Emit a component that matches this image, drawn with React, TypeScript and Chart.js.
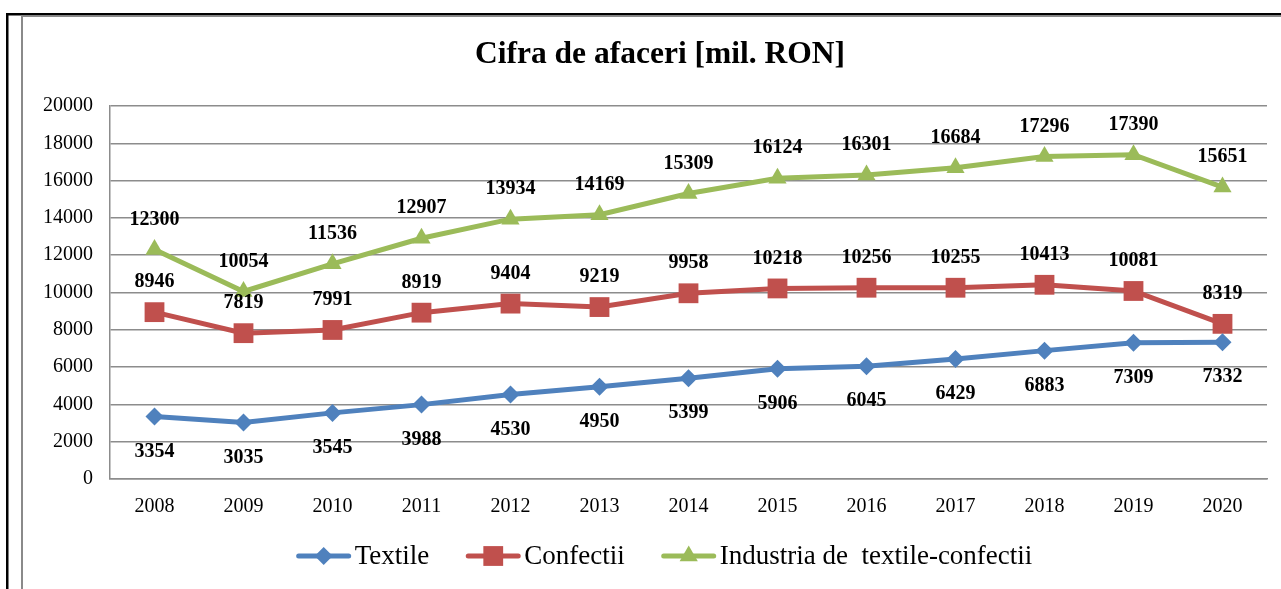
import { useEffect, useRef } from 'react';
import { Chart, registerables } from 'chart.js';

Chart.register(...registerables);

const years = ['2008', '2009', '2010', '2011', '2012', '2013', '2014', '2015', '2016', '2017', '2018', '2019', '2020'];
const textile = [3354, 3035, 3545, 3988, 4530, 4950, 5399, 5906, 6045, 6429, 6883, 7309, 7332];
const confectii = [8946, 7819, 7991, 8919, 9404, 9219, 9958, 10218, 10256, 10255, 10413, 10081, 8319];
const industria = [12300, 10054, 11536, 12907, 13934, 14169, 15309, 16124, 16301, 16684, 17296, 17390, 15651];
const seriesNames = ['Textile', 'Confectii', 'Industria de  textile-confectii'];
const yMax = 20000;
const yStep = 2000;
const titleText = 'Cifra de afaceri [mil. RON]';

const FONT = "'Liberation Serif', 'Times New Roman', serif";
const BLUE = '#4F81BD';
const RED = '#C0504D';
const GREEN = '#9BBB59';
const GRID = '#8c8c8c';

const styles = [
  { color: BLUE, pointStyle: 'rectRot', radius: 9, labelBelow: true },
  { color: RED, pointStyle: 'rect', radius: 14, labelBelow: false },
  { color: GREEN, pointStyle: 'triangle', radius: 10.5, labelBelow: false },
];

const framePlugin = {
  id: 'frame',
  beforeDraw(chart: any) {
    const ctx = chart.ctx;
    const w = chart.width;
    const h = chart.height;
    ctx.save();
    ctx.fillStyle = '#ffffff';
    ctx.fillRect(0, 0, w, h);
    ctx.fillStyle = '#000000';
    ctx.fillRect(6, 13, w - 6, 2.5);
    ctx.fillRect(6, 13, 2.5, h - 13);
    ctx.fillStyle = '#8a8a8a';
    ctx.fillRect(21, 15.5, w - 21, 1.5);
    ctx.fillRect(21, 15.5, 2, h - 15.5);
    ctx.restore();
  },
};

function drawMarker(ctx: CanvasRenderingContext2D, style: string, r: number, x: number, y: number) {
  ctx.beginPath();
  if (style === 'rectRot') {
    ctx.moveTo(x, y - r);
    ctx.lineTo(x + r, y);
    ctx.lineTo(x, y + r);
    ctx.lineTo(x - r, y);
  } else if (style === 'rect') {
    const s = r * Math.SQRT1_2;
    ctx.rect(x - s, y - s, 2 * s, 2 * s);
  } else {
    const a = (2 * Math.PI) / 3;
    for (let k = 0; k < 3; k++) {
      const ang = -Math.PI / 2 + k * a;
      const px = x + Math.cos(ang) * r;
      const py = y + Math.sin(ang) * r;
      if (k === 0) ctx.moveTo(px, py);
      else ctx.lineTo(px, py);
    }
  }
  ctx.closePath();
  ctx.fill();
}

const overlayPlugin = {
  id: 'overlay',
  afterDatasetsDraw(chart: any) {
    const ctx = chart.ctx;
    ctx.save();
    ctx.font = `bold 20px ${FONT}`;
    ctx.fillStyle = '#000000';
    ctx.textAlign = 'center';
    ctx.textBaseline = 'middle';
    chart.data.datasets.forEach((ds: any, di: number) => {
      const meta = chart.getDatasetMeta(di);
      meta.data.forEach((pt: any, i: number) => {
        const v = ds.data[i];
        const dy = styles[di].labelBelow ? 35 : -30;
        ctx.fillText(String(v), pt.x, pt.y + dy);
      });
    });
    ctx.font = `bold 31.5px ${FONT}`;
    ctx.fillText(titleText, 660, 55);
    ctx.font = `27px ${FONT}`;
    const symW = 56;
    const gapText = 3;
    const gapItem = 36;
    const widths = seriesNames.map((n) => ctx.measureText(n).width);
    const total = widths.reduce((a, b) => a + b, 0) + seriesNames.length * (symW + gapText) + (seriesNames.length - 1) * gapItem;
    let x = 664 - total / 2;
    const y = 556;
    seriesNames.forEach((name, i) => {
      const st = styles[i];
      ctx.strokeStyle = st.color;
      ctx.lineWidth = 5;
      ctx.lineCap = 'round';
      ctx.beginPath();
      ctx.moveTo(x + 3, y);
      ctx.lineTo(x + symW - 3, y);
      ctx.stroke();
      ctx.fillStyle = st.color;
      drawMarker(ctx, st.pointStyle, st.radius, x + symW / 2, y);
      ctx.fillStyle = '#000000';
      ctx.textAlign = 'left';
      ctx.fillText(name, x + symW + gapText, y + 1);
      x += symW + gapText + widths[i] + gapItem;
    });
    ctx.restore();
  },
};

export default function App() {
  const ref = useRef<HTMLCanvasElement | null>(null);
  useEffect(() => {
    if (!ref.current) return;
    const allSeries = [textile, confectii, industria];
    const chart = new Chart(ref.current, {
      type: 'line',
      data: {
        labels: years,
        datasets: allSeries.map((d, i) => ({
          label: seriesNames[i],
          data: d,
          borderColor: styles[i].color,
          backgroundColor: styles[i].color,
          borderWidth: 5,
          pointStyle: styles[i].pointStyle as any,
          pointRadius: styles[i].radius,
          pointBorderWidth: 0,
          pointBackgroundColor: styles[i].color,
          tension: 0,
          fill: false,
        })),
      },
      options: {
        animation: false,
        responsive: false,
        maintainAspectRatio: false,
        layout: { padding: { top: 106, left: 0, right: 11, bottom: 70 } },
        plugins: {
          legend: { display: false },
          title: { display: false },
          tooltip: { enabled: false },
        },
        scales: {
          x: {
            offset: true,
            grid: { display: false, drawTicks: false },
            border: { display: true, color: GRID, width: 1.5 },
            ticks: { color: '#000', font: { family: FONT, size: 20 }, padding: 16, maxRotation: 0 },
            afterFit: (s: any) => { s.height = 40; },
          },
          y: {
            min: 0,
            max: yMax,
            grid: { color: GRID, lineWidth: 1.5, drawTicks: false },
            border: { display: true, color: GRID, width: 1.5 },
            ticks: {
              stepSize: yStep,
              color: '#000',
              font: { family: FONT, size: 20 },
              padding: 17,
              callback: (v: any) => String(v),
            },
            afterFit: (s: any) => { s.width = 110; },
          },
        },
      },
      plugins: [framePlugin, overlayPlugin],
    });
    return () => chart.destroy();
  }, []);
  return (
    <div style={{ position: 'absolute', left: 0, top: 0, width: 1281, height: 589 }}>
      <canvas ref={ref} width={1281} height={589} style={{ display: 'block', width: 1281, height: 589 }} />
    </div>
  );
}
